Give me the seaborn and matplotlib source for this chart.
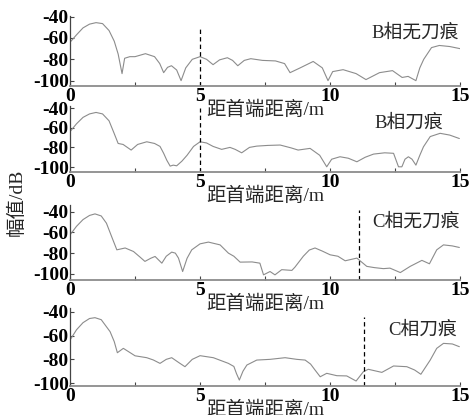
import numpy as np
import pandas as pd
import matplotlib
matplotlib.use("Agg")
import matplotlib.pyplot as plt
import seaborn as sns

# Distance from the cable head end (m) and amplitude (dB) for each phase / condition
b_clean_x = [0, 0.25, 0.5, 0.75, 1.0, 1.25, 1.5, 1.7, 1.85, 2.0, 2.1, 2.3, 2.5, 2.9, 3.25,
             3.45, 3.6, 3.75, 3.9, 4.1, 4.27, 4.45, 4.7, 5.0, 5.25, 5.5, 5.75, 6.05, 6.25,
             6.45, 6.7, 6.95, 7.4, 7.9, 8.25, 8.46, 8.85, 9.35, 9.7, 9.92, 10.1, 10.5, 11.0,
             11.38, 11.9, 12.4, 12.77, 13.0, 13.3, 13.45, 13.6, 13.9, 14.2, 14.6, 15.0]
b_clean_y = [-64, -57, -50.5, -47, -45.6, -46.5, -53, -63, -75, -93.4, -79, -77.5, -77.5, -74.7,
             -77.5, -84, -92.5, -87.5, -86, -90, -100, -88, -80, -77.5, -80, -85, -80.5, -78.5,
             -81, -86, -81, -79.4, -81, -81.5, -84, -92.5, -88, -82, -88, -100, -91.5, -89.7,
             -93.4, -99, -92.5, -90.6, -97, -96, -100, -88, -80, -69, -67, -68, -70]

b_cut_x = [0, 0.25, 0.5, 0.75, 1.0, 1.25, 1.5, 1.7, 1.85, 2.04, 2.35, 2.6, 2.95, 3.25, 3.46,
           3.6, 3.72, 3.85, 3.97, 4.1, 4.3, 4.5, 4.75, 5.0, 5.25, 5.5, 5.83, 6.15, 6.35, 6.6,
           6.9, 7.18, 7.6, 8.08, 8.5, 8.77, 9.23, 9.6, 9.87, 10.06, 10.38, 10.7, 11.03, 11.35,
           11.67, 12.1, 12.44, 12.63, 12.76, 12.88, 13.01, 13.15, 13.3, 13.45, 13.59, 13.85,
           14.23, 14.6, 14.97]
b_cut_y = [-64, -56, -49.5, -46, -44.5, -46, -53, -66, -76, -77, -82.7, -77, -74.3, -76, -79,
           -86, -93, -99, -98, -98.7, -94, -88, -79, -74.3, -75.5, -79, -82, -80, -82, -85.5,
           -80, -78.7, -78, -77.6, -80.5, -82.7, -81, -88, -99.7, -92, -89.5, -91, -94.6, -90,
           -86.8, -85.5, -86, -99.7, -99.7, -92, -89.5, -92, -98, -88, -79.4, -69, -65.7,
           -67.5, -71]

c_clean_x = [0, 0.25, 0.5, 0.75, 0.96, 1.2, 1.4, 1.6, 1.8, 2.12, 2.44, 2.7, 2.88, 3.1, 3.27,
             3.53, 3.7, 3.91, 4.05, 4.17, 4.33, 4.5, 4.68, 5.0, 5.32, 5.77, 6.09, 6.3, 6.54,
             7.0, 7.3, 7.44, 7.69, 7.88, 8.14, 8.53, 8.65, 8.97, 9.2, 9.42, 9.7, 10.0, 10.3,
             10.58, 11.03, 11.41, 11.7, 12.05, 12.3, 12.7, 13.08, 13.53, 13.82, 14.1, 14.36,
             14.7, 14.97]
c_clean_y = [-62.3, -54, -47.5, -43.5, -42, -44, -51, -64, -76.8, -75, -78.4, -84, -88, -85,
             -83.2, -89.7, -83, -79, -80, -84.8, -97.8, -85, -76.8, -71, -69.3, -72, -80, -83,
             -88.7, -88.5, -89.7, -101, -97.8, -101, -96, -96.7, -93.5, -83, -77, -75, -78,
             -81.6, -83, -87.4, -84.8, -92.8, -94, -95, -94.5, -98.8, -92.8, -87, -90.3, -76.8,
             -72, -73, -74.5]

c_cut_x = [0, 0.25, 0.5, 0.75, 0.96, 1.2, 1.54, 1.7, 1.82, 2.05, 2.5, 2.95, 3.2, 3.46, 3.7,
           3.91, 4.2, 4.42, 4.7, 5.0, 5.51, 5.8, 6.09, 6.3, 6.4, 6.51, 6.65, 6.8, 7.18, 7.69,
           8.27, 8.72, 9.04, 9.25, 9.42, 9.62, 9.87, 10.26, 10.64, 11.0, 11.28, 11.47, 11.99,
           12.44, 12.95, 13.25, 13.49, 13.85, 14.1, 14.36, 14.7, 14.97]
c_cut_y = [-63.7, -55, -49, -45.5, -44.8, -46.5, -56.6, -65, -74.4, -70.7, -77, -78.6, -80.5,
           -83.4, -80, -78.6, -83, -86.2, -80, -76.9, -78.6, -81, -83.4, -86, -92, -97.5, -90,
           -84.8, -80.6, -80, -78.6, -80, -80.6, -84, -89, -94.7, -91.8, -93.8, -94, -98.3,
           -90.4, -88.4, -91, -85.6, -86.2, -89, -92.6, -80.6, -70.7, -66.5, -67, -69.3]

panel_labels = ["B相无刀痕", "B相刀痕", "C相无刀痕", "C相刀痕"]
marker_pos = [5.0, 5.0, 11.1, 11.3]        # dashed reference line positions (m)
x_ticks = [0, 5, 10, 15]
y_ticks = [-40, -60, -80, -100]
x_label = "距首端距离/m"
y_label = "幅值/dB"

sns.set_theme(style="ticks")
plt.rcParams["font.family"] = ["Liberation Serif", "Noto Sans CJK SC", "DejaVu Sans"]
plt.rcParams["axes.unicode_minus"] = False

fig = plt.figure(figsize=(4.7, 4.15), dpi=100)

series = [(b_clean_x, b_clean_y), (b_cut_x, b_cut_y), (c_clean_x, c_clean_y), (c_cut_x, c_cut_y)]
# [bottom, height] of each axes in figure fraction, and y-limits
boxes = [(0.7928, 0.1696), (0.5855, 0.159), (0.3253, 0.1817), (0.0699, 0.188)]
ylims = [(-105, -39), (-105, -38), (-106, -33), (-102.5, -36.6)]
label_y = [-55, -55.6, -49.4, -55.2]
label_x = [14.95, 14.36, 15.0, 14.87]
dash_top = [-49, -40, -38, -44]

for i, ((xs, ys), (b, h)) in enumerate(zip(series, boxes)):
    ax = fig.add_axes([0.149, b, 0.830, h])
    ax.patch.set_visible(False)   # keep the axis label of the panel above visible
    df = pd.DataFrame({"dist": xs, "amp": ys})
    sns.lineplot(data=df, x="dist", y="amp", ax=ax, color="#8c8c8c", linewidth=0.8)
    ax.set_xlim(0, 15)
    ax.set_ylim(*ylims[i])
    ax.vlines(marker_pos[i], ylims[i][0], dash_top[i], colors="black",
              linestyles=(0, (3.5, 2.5)), linewidth=0.9)
    ax.text(label_x[i], label_y[i], panel_labels[i], ha="right", va="center", fontsize=13.5)

    for side in ("top", "right"):
        ax.spines[side].set_visible(False)
    ax.spines["left"].set_color("#444444")
    ax.spines["left"].set_linewidth(0.9)
    ax.spines["bottom"].set_color("#8c8c8c")
    ax.spines["bottom"].set_linewidth(1.3)

    ax.set_xticks(x_ticks)
    ax.set_xticks([2.5, 7.5, 12.5], minor=True)
    ax.set_yticks(y_ticks)
    ax.set_xticklabels([str(t) for t in x_ticks], fontweight="bold")
    ax.set_yticklabels([str(t) for t in y_ticks], fontweight="bold")
    ax.tick_params(axis="both", which="both", direction="in", length=3, width=0.8,
                   colors="#444444", labelcolor="black", labelsize=14)
    ax.tick_params(axis="x", pad=1.5)
    ax.tick_params(axis="y", pad=1)

    ax.set_xlabel(x_label, fontsize=14)
    ax.xaxis.set_label_coords(0.5, -15 / (h * 415))
    ax.set_ylabel("")

fig.text(0.036, 0.513, y_label, rotation=90, ha="center", va="center", fontsize=14)

fig.savefig("out.png", dpi=100)
